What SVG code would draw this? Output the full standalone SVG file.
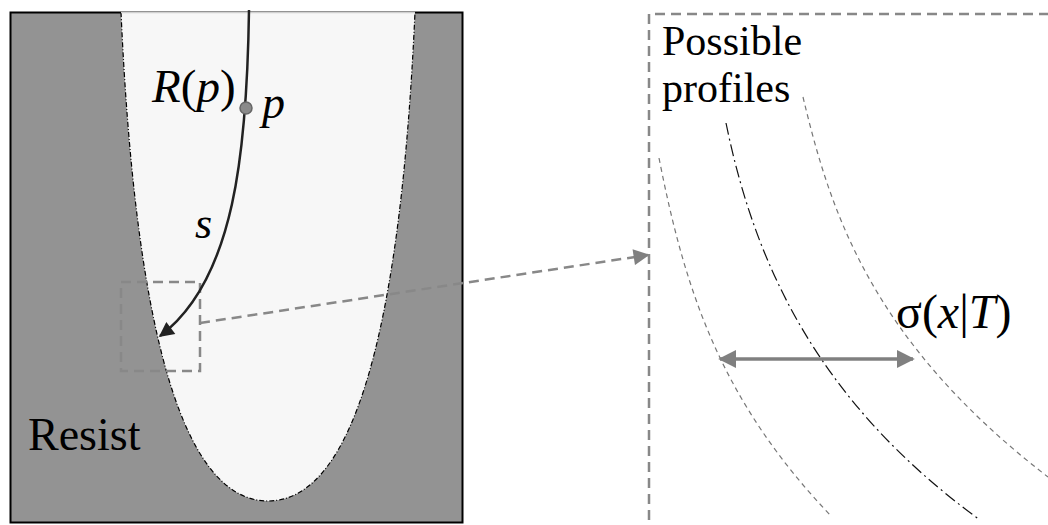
<svg xmlns="http://www.w3.org/2000/svg" width="1048" height="525" viewBox="0 0 1048 525">
<style>
text{font-family:'Liberation Serif','Times New Roman',serif;fill:#000}
.i{font-style:italic}
.prof{fill:none;stroke:#777;stroke-width:1.2;stroke-dasharray:5,4}
.mid{fill:none;stroke:#111;stroke-width:1.2;stroke-dasharray:12,4,2,4}
.gdash{fill:none;stroke:#888;stroke-width:2.5;stroke-dasharray:10,6}
</style>
<defs>
<marker id="ah" viewBox="0 0 10 10" refX="9" refY="5" markerWidth="19" markerHeight="15" markerUnits="userSpaceOnUse" orient="auto"><path d="M0,0 L10,5 L0,10 Z" fill="#222"/></marker>
<marker id="ag" viewBox="0 0 10 10" refX="9" refY="5" markerWidth="18" markerHeight="16" markerUnits="userSpaceOnUse" orient="auto"><path d="M0,0 L10,5 L0,10 Z" fill="#808080"/></marker>
<marker id="ag2" viewBox="0 0 10 10" refX="9" refY="5" markerWidth="18" markerHeight="18" markerUnits="userSpaceOnUse" orient="auto-start-reverse"><path d="M0,0 L10,5 L0,10 Z" fill="#808080"/></marker>
</defs>
<g id="resist-panel">
<rect x="10.5" y="12.5" width="452" height="510" fill="#939393" stroke="#000" stroke-width="2"/>
<path d="M121,12 C134.5,312 178,501 268,501 C358,501 401.5,312 415,12 Z" fill="#f7f7f7"/>
<path d="M121,12 C134.5,312 178,501 268,501 C358,501 401.5,312 415,12" fill="none" stroke="#000" stroke-width="1.2" stroke-dasharray="5,2,1,2"/>
<line x1="121" y1="12.5" x2="415" y2="12.5" stroke="#d0d0d0" stroke-width="1.5"/>
<text x="28" y="450" font-size="46">Resist</text>
</g>
<g id="zoom-box">
<rect x="121" y="282" width="79" height="89" class="gdash"/>
</g>
<g id="path-s">
<path d="M249,10 C247,150 235,280 160,336" fill="none" stroke="#222" stroke-width="2.5" marker-end="url(#ah)"/>
<text class="i" x="195" y="238" font-size="44">s</text>
</g>
<g id="point-p">
<circle cx="246" cy="108" r="6" fill="#8a8a8a" stroke="#666" stroke-width="1.5"/>
<text x="152" y="102" font-size="47"><tspan class="i">R</tspan>(<tspan class="i">p</tspan>)</text>
<text class="i" x="262" y="118" font-size="46">p</text>
</g>
<g id="connectors">
<line x1="200" y1="323" x2="648" y2="255" class="gdash" stroke-width="3" stroke-dasharray="14,8" marker-end="url(#ag)"/>
</g>
<g id="profiles-panel">
<path d="M649,1000 L649,14 L1060,14" class="gdash" stroke-width="2.2" stroke-dasharray="9,6"/>
<text font-size="42"><tspan x="662" y="55">Possible</tspan><tspan x="662" y="102">profiles</tspan></text>
<path d="M659,158 C685,290 720,400 832,517" class="prof"/>
<path d="M726,123 C754,260 815,400 980,520" class="mid"/>
<path d="M803,97 C830,210 870,340 1048,477" class="prof"/>
<line x1="720" y1="359" x2="913" y2="359" stroke="#808080" stroke-width="3.5" marker-start="url(#ag2)" marker-end="url(#ag2)"/>
<text x="896" y="328" font-size="48">σ(<tspan class="i">x</tspan>|<tspan class="i">T</tspan>)</text>
</g>
</svg>
